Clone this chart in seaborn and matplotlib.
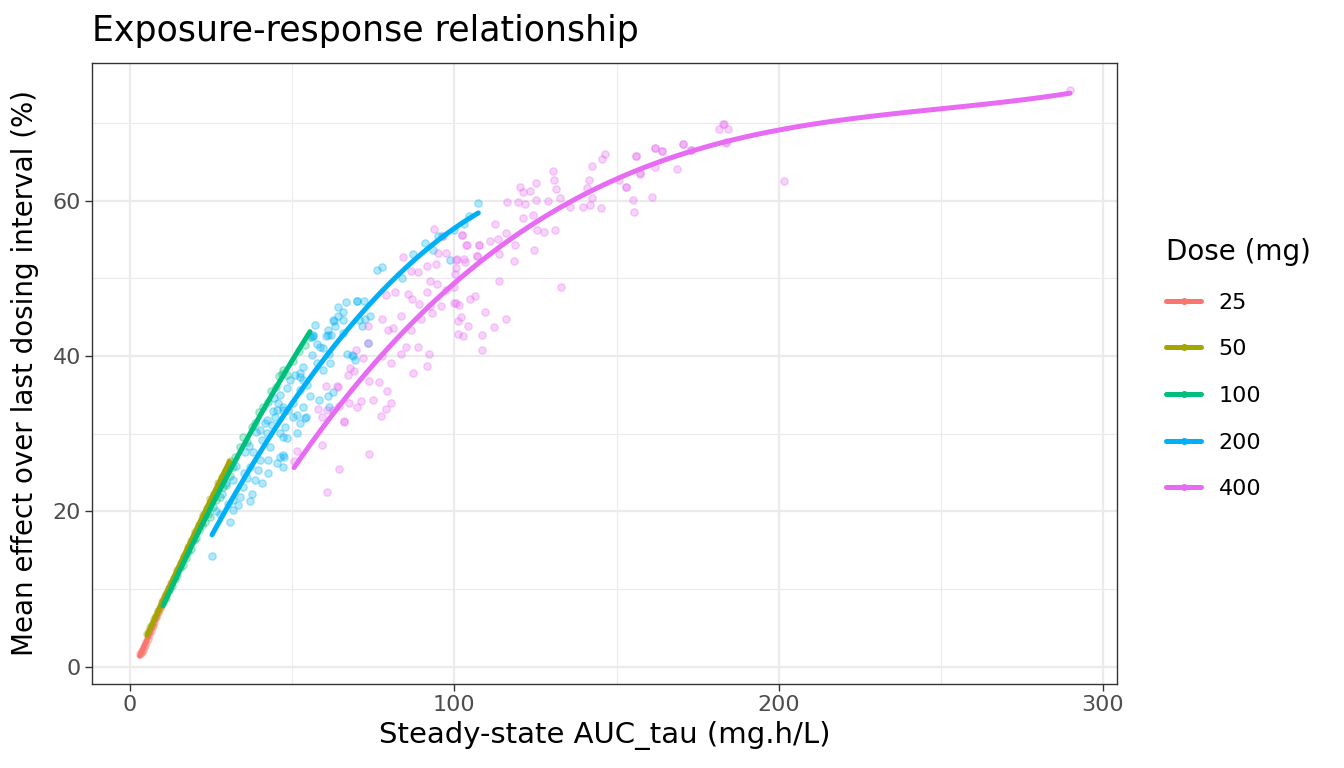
import numpy as np
import pandas as pd
import seaborn as sns
import matplotlib.pyplot as plt
from matplotlib.lines import Line2D
from matplotlib.ticker import MultipleLocator

# dose groups and ggplot-like hue colours
doses = [25, 50, 100, 200, 400]
colors = ['#F8766D', '#A3A500', '#00BF7D', '#00B0F6', '#E76BF3']
# polynomial order of the smooth for each dose group
smooth_order = [2, 2, 2, 2, 3]

# AUC_tau (mg.h/L) and mean effect (%), per dose
auc_25 = [3.0, 3.3, 3.6, 4.0, 4.3, 4.7, 5.0, 5.5, 6.0, 6.4, 7.0, 7.5, 8.1, 8.8, 9.5, 10.3, 11.2, 12.0]
eff_25 = [1.6, 1.8, 2.0, 2.2, 2.5, 2.8, 3.2, 3.6, 4.1, 4.6, 5.2, 5.8, 6.4, 7.1, 7.8, 8.6, 9.4, 10.1]

auc_50 = [5.3, 5.8, 6.3, 6.9, 7.4, 8.0, 8.6, 9.3, 10.0, 10.8, 11.7, 12.6, 13.5, 14.5,
          15.6, 16.7, 17.8, 18.9, 20.0, 21.2, 22.4, 23.6, 24.8, 26.0, 27.1, 28.3, 29.5, 30.7]
eff_50 = [4.2, 4.6, 5.1, 5.4, 6.1, 6.5, 7.2, 7.6, 8.4, 9.1, 9.8, 10.8, 11.5, 12.5,
          13.4, 14.3, 15.4, 16.2, 17.4, 18.3, 19.5, 20.4, 21.6, 22.3, 23.6, 24.4, 25.2, 26.5]

auc_100 = [10.2, 11.0, 12.1, 13.0, 13.8, 14.6, 15.5, 16.3, 17.2, 18.0, 18.9, 19.8, 20.5, 21.4,
           22.3, 23.1, 24.0, 24.7, 25.7, 26.5, 27.8, 28.8, 29.5, 30.8, 31.9, 32.4, 33.9, 34.9,
           36.0, 37.5, 38.6, 39.8, 41.1, 42.5, 43.6, 44.9, 46.0, 46.8, 47.3, 48.5, 50.2, 52.0,
           54.0, 55.5]
eff_100 = [8.3, 8.9, 9.9, 10.4, 11.3, 11.8, 12.7, 13.1, 14.0, 14.8, 15.2, 16.3, 16.6, 17.6,
           18.3, 18.6, 19.7, 19.3, 20.6, 21.5, 21.9, 23.2, 23.4, 24.5, 25.7, 27.0, 28.3, 29.6,
           29.0, 30.9, 31.4, 32.8, 33.5, 34.1, 35.5, 36.0, 37.4, 37.7, 38.2, 37.5, 39.3, 40.6,
           41.4, 42.5]

auc_200 = [25.3, 27.8, 30.8, 30.3, 31.9, 31.9, 33.4, 33.9, 34.9, 36.0, 37.0, 37.5, 38.5, 40.6,
           42.6, 39.6, 37.0, 38.0, 40.1, 42.6, 45.2, 46.3, 47.3, 43.2, 40.6, 42.2, 48.3, 46.3,
           43.7, 44.7, 47.8, 52.4, 54.3, 51.4, 45.7, 47.3, 48.8, 50.4, 53.4, 55.5, 52.4, 54.5,
           49.3, 50.9, 52.4, 53.4, 59.6, 57.6, 56.0, 61.5, 59.6, 57.6, 56.5, 60.4, 61.9, 61.0,
           65.6, 62.9, 65.8, 66.5, 64.2, 46.3, 48.3, 47.3, 45.2, 42.2, 40.1, 61.2, 58.3, 66.8,
           65.8, 107.4, 76.1, 77.6, 87.4, 93.5, 98.7, 96.1, 69.9, 72.2, 74.0, 72.5, 70.7, 73.5,
           62.7, 63.2, 61.2, 56.5, 68.4, 69.4, 61.7, 62.7, 61.5, 83.8, 70.1, 71.4, 68.7, 56.0,
           58.6, 52.4, 53.4, 54.0, 50.4, 51.4, 47.3, 47.5, 47.3, 91.0, 95.0, 100.0, 103.0, 104.5,
           31.9, 35.1, 57.0, 64.0, 26.5, 28.5, 29.5, 32.8, 35.5, 36.8, 39.0, 41.5, 44.0, 44.3]
eff_200 = [14.3, 19.7, 18.7, 21.0, 20.2, 21.5, 20.8, 21.9, 23.2, 24.3, 21.3, 22.3, 24.0, 23.6,
           24.9, 25.3, 25.7, 27.7, 26.6, 26.6, 26.2, 27.0, 27.3, 28.3, 29.2, 30.1, 29.4, 30.1,
           31.1, 32.2, 30.9, 31.4, 32.2, 32.4, 33.9, 33.5, 33.1, 33.9, 33.5, 34.8, 35.6, 36.3,
           36.9, 37.6, 37.3, 38.6, 38.2, 39.1, 40.1, 40.3, 41.0, 41.6, 42.6, 42.6, 42.7, 43.3,
           44.6, 44.5, 45.7, 46.9, 46.3, 35.0, 35.9, 33.1, 33.1, 31.8, 30.5, 34.8, 34.3, 40.3,
           42.9, 59.7, 51.1, 51.4, 53.1, 53.6, 52.4, 55.4, 47.1, 47.1, 45.1, 44.7, 44.6, 41.7,
           44.6, 43.8, 42.7, 42.7, 40.1, 39.5, 39.1, 35.4, 33.5, 50.0, 47.1, 43.9, 40.0, 42.5,
           41.2, 37.8, 36.9, 32.0, 32.2, 30.1, 29.6, 27.0, 25.7, 54.5, 55.5, 56.2, 57.0, 58.0,
           24.1, 24.9, 44.0, 45.2, 20.0, 22.2, 23.6, 25.8, 27.6, 28.4, 30.2, 31.4, 32.9, 34.6]

auc_400 = [289.8, 201.7, 182.9, 181.6, 184.4, 183.8, 170.5, 173.0, 161.9, 164.0, 156.0, 161.9,
           168.7, 157.3, 161.0, 155.1, 155.4, 152.9, 146.5, 145.5, 142.5, 141.5, 141.0, 142.5,
           141.8, 139.7, 145.2, 135.7, 130.4, 130.7, 131.4, 125.2, 123.3, 120.3, 121.2, 125.2,
           128.9, 132.6, 116.2, 119.6, 121.8, 124.3, 121.2, 125.5, 131.1, 127.7, 115.9, 112.5,
           113.5, 111.0, 107.6, 118.7, 103.6, 102.4, 107.0, 113.8, 124.6, 118.4, 113.8, 132.9,
           104.8, 106.4, 109.5, 115.9, 112.2, 108.5, 104.2, 102.1, 101.1, 101.1, 102.7, 108.5,
           99.9, 100.2, 100.5, 100.8, 103.3, 103.0, 103.9, 100.5, 101.5, 93.7, 102.3, 107.7,
           96.6, 84.1, 95.0, 97.4, 100.5, 106.9, 91.5, 88.9, 94.5, 86.7, 92.6, 94.8, 97.4,
           91.5, 85.8, 81.6, 78.9, 87.0, 89.1, 92.5, 95.8, 99.8, 77.7, 83.7, 89.6, 93.2, 86.7,
           81.2, 79.7, 73.5, 73.3, 69.7, 71.9, 77.6, 80.5, 85.1, 88.8, 87.3, 91.6, 92.1, 83.6,
           67.8, 69.0, 67.1, 63.9, 60.4, 73.8, 76.9, 79.1, 74.9, 71.1, 80.5, 79.0, 77.4, 70.1,
           67.6, 64.5, 62.7, 59.3, 66.1, 59.2, 51.6, 73.8, 64.3, 60.6, 50.6, 64.0, 57.9, 60.6,
           66.0, 150.8, 152.8, 156.0, 157.3, 162.0, 164.0, 170.4, 172.9, 183.7, 183.0]
eff_400 = [74.2, 62.5, 69.8, 69.2, 69.2, 67.5, 67.3, 66.5, 66.8, 66.4, 65.7, 64.3,
           64.0, 63.4, 60.4, 60.1, 58.5, 61.7, 66.0, 65.3, 64.4, 62.6, 61.6, 60.3,
           59.4, 59.2, 59.0, 59.2, 63.8, 62.6, 61.5, 62.3, 61.2, 61.7, 61.1, 60.1,
           59.9, 60.3, 59.8, 59.8, 59.5, 58.1, 57.7, 56.2, 56.2, 55.9, 55.8, 57.0,
           55.0, 54.8, 54.3, 54.3, 54.3, 55.6, 52.9, 53.1, 53.6, 52.2, 49.6, 48.9,
           47.3, 47.7, 45.7, 44.8, 43.7, 42.7, 43.9, 45.0, 44.5, 42.8, 42.6, 40.8,
           48.9, 50.5, 51.3, 52.5, 52.1, 52.5, 54.3, 46.8, 46.6, 56.3, 55.6, 54.3,
           55.4, 52.8, 53.2, 53.2, 52.3, 52.9, 51.6, 50.8, 51.8, 50.9, 49.6, 49.3, 48.5,
           48.2, 48.0, 48.3, 47.8, 47.3, 46.7, 46.4, 46.4, 46.8, 44.8, 45.1, 44.8, 45.5, 43.3,
           43.6, 43.3, 43.9, 41.7, 40.8, 39.8, 40.0, 39.1, 41.1, 41.1, 37.8, 38.7, 40.3, 40.3,
           38.5, 38.1, 37.6, 36.1, 36.1, 36.8, 36.6, 35.5, 34.3, 34.2, 34.0, 33.2, 32.3, 33.5,
           34.0, 33.6, 33.1, 32.2, 31.6, 28.6, 27.8, 27.4, 25.4, 22.5, 26.5, 36.0, 33.2, 33.1,
           31.5, 62.7, 61.7, 65.7, 63.5, 66.7, 66.4, 67.3, 66.5, 67.4, 69.8]

auc = [auc_25, auc_50, auc_100, auc_200, auc_400]
eff = [eff_25, eff_50, eff_100, eff_200, eff_400]

df = pd.concat([
    pd.DataFrame({'auc': a, 'effect': e, 'dose': d})
    for a, e, d in zip(auc, eff, doses)
], ignore_index=True)

sns.set_theme(style='white')
plt.rcParams['font.family'] = ['DejaVu Sans']
plt.rcParams['text.color'] = 'black'

fig = plt.figure(figsize=(13.44, 7.68), dpi=100)
ax = fig.add_axes([92 / 1344, 1 - 684 / 768, (1117 - 92) / 1344, (684 - 63) / 768])

# points first, then one polynomial smooth per dose (like geom_smooth)
for d, c in zip(doses, colors):
    sub = df[df['dose'] == d]
    ax.scatter(sub['auc'], sub['effect'], s=28, facecolor=c, edgecolor=c,
               alpha=0.3, linewidth=1.0, zorder=2)
for d, c, k in zip(doses, colors, smooth_order):
    sub = df[df['dose'] == d]
    sns.regplot(data=sub, x='auc', y='effect', order=k, ci=None, scatter=False,
                truncate=True, color=c, line_kws={'linewidth': 3.6, 'zorder': 3},
                ax=ax)

ax.set_xlim(-11.7, 304.3)
ax.set_ylim(-2.2, 77.7)
ax.xaxis.set_major_locator(MultipleLocator(100))
ax.xaxis.set_minor_locator(MultipleLocator(50))
ax.yaxis.set_major_locator(MultipleLocator(20))
ax.yaxis.set_minor_locator(MultipleLocator(10))
ax.grid(True, which='major', color='#EBEBEB', linewidth=1.6, zorder=0)
ax.grid(True, which='minor', color='#EBEBEB', linewidth=0.8, zorder=0)
ax.set_axisbelow(True)
for sp in ax.spines.values():
    sp.set_color('#333333')
    sp.set_linewidth(1.0)
ax.tick_params(which='major', direction='out', length=5, width=1.0, color='#333333',
               labelsize=16, labelcolor='#4D4D4D', pad=3, bottom=True, left=True)
ax.tick_params(which='minor', length=0)

ax.set_xlabel('Steady-state AUC_tau (mg.h/L)', fontsize=21, color='black', labelpad=4)
ax.set_ylabel('Mean effect over last dosing interval (%)', fontsize=20, color='black', labelpad=10)
ax.set_title('Exposure-response relationship', fontsize=25, loc='left', pad=16, color='black')

handles = [Line2D([0], [0], color=c, linewidth=3.6, marker='o', markersize=4,
                  markerfacecolor=c, markeredgecolor=c) for c in colors]
leg = ax.legend(handles, [str(d) for d in doses], title='Dose (mg)', loc='center left',
                bbox_to_anchor=(1.033, 0.508), frameon=False, fontsize=16,
                title_fontsize=20, handlelength=1.55, labelspacing=1.2, handletextpad=0.8,
                alignment='left', borderpad=0.2)
leg.get_title().set_color('black')
for t in leg.get_texts():
    t.set_color('black')

fig.savefig('out.png', dpi=100)
